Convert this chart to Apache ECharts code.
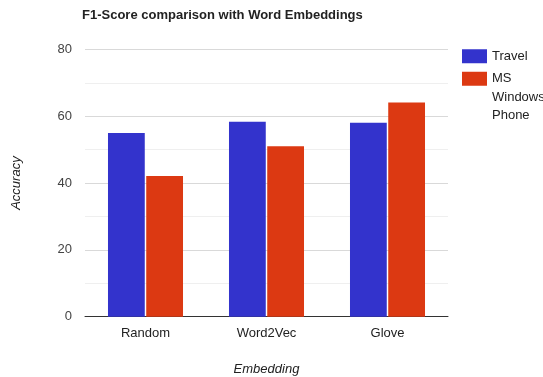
<!DOCTYPE html>
<html>
<head>
<meta charset="utf-8">
<script src="https://cdn.jsdelivr.net/npm/echarts@6/dist/echarts.min.js"></script>
<style>
  html, body { margin: 0; padding: 0; background: #fff; }
  #chart { width: 543px; height: 377px; }
</style>
</head>
<body>
<div id="chart"></div>
<script>
// Embedding methods on the x axis
const categories = ['Random', 'Word2Vec', 'Glove'];
// F1 scores per dataset
const travel = [55, 58.4, 58.1];
const msWindowsPhone = [42.1, 51, 64.1];
const seriesNames = ['Travel', 'MS Windows Phone'];
// Y axis range
const yMin = 0, yMax = 80, yStep = 20;

const FONT = '"Liberation Sans", Arial, sans-serif';
const LINE_H = 18.5;

// Wrap a legend name one word per line; two blank lines in front keep the
// first word level with the swatch (legend text is centred on the swatch).
function wrapLegendName(name) {
  const words = name.split(' ');
  const pad = new Array(words.length - 1).fill('');
  return pad.concat(words).join('\n');
}

const chart = echarts.init(document.getElementById('chart'), null, { renderer: 'canvas' });

chart.setOption({
  animation: false,
  backgroundColor: '#ffffff',
  textStyle: { fontFamily: FONT },
  title: {
    text: 'F1-Score comparison with Word Embeddings',
    left: 82,
    top: 9,
    padding: 0,
    textStyle: { fontFamily: FONT, fontSize: 13, fontWeight: 'bold', color: '#222' }
  },
  legend: [
    {
      data: [seriesNames[0]],
      orient: 'vertical',
      left: 462,
      top: 47,
      padding: 0,
      itemWidth: 25,
      itemHeight: 14,
      icon: 'rect',
      selectedMode: false,
      textStyle: { fontFamily: FONT, fontSize: 13, color: '#222', lineHeight: LINE_H }
    },
    {
      data: [seriesNames[1]],
      orient: 'vertical',
      left: 462,
      top: 32.5,
      padding: 0,
      itemWidth: 25,
      itemHeight: 14,
      icon: 'rect',
      selectedMode: false,
      formatter: wrapLegendName,
      textStyle: { fontFamily: FONT, fontSize: 13, color: '#222', lineHeight: LINE_H }
    }
  ],
  grid: {
    left: 85, right: 95, top: 49.5, bottom: 60.3,
    containLabel: false,
    outerBoundsMode: 'none'
  },
  xAxis: {
    type: 'category',
    data: categories,
    name: 'Embedding',
    nameLocation: 'middle',
    nameGap: 46,
    nameTextStyle: { fontFamily: FONT, fontSize: 13, fontStyle: 'italic', color: '#222' },
    axisLine: { show: true, lineStyle: { color: '#333', width: 1 } },
    axisTick: { show: false },
    axisLabel: { margin: 10, fontFamily: FONT, fontSize: 13, color: '#222' }
  },
  yAxis: {
    type: 'value',
    min: yMin,
    max: yMax,
    interval: yStep,
    name: 'Accuracy',
    nameLocation: 'middle',
    nameGap: 62,
    nameTextStyle: { fontFamily: FONT, fontSize: 13, fontStyle: 'italic', color: '#222' },
    axisLine: { show: false },
    axisTick: { show: false },
    axisLabel: { margin: 13, fontFamily: FONT, fontSize: 13, color: '#444' },
    splitLine: { show: true, lineStyle: { color: '#d9d9d9', width: 1 } },
    minorTick: { show: false, splitNumber: 2 },
    minorSplitLine: { show: true, lineStyle: { color: '#efefef', width: 1 } }
  },
  series: [
    {
      name: seriesNames[0],
      type: 'bar',
      data: travel,
      barGap: '4%',
      barCategoryGap: '38%',
      itemStyle: { color: '#3333cc' }
    },
    {
      name: seriesNames[1],
      type: 'bar',
      data: msWindowsPhone,
      itemStyle: { color: '#dc3912' }
    }
  ]
});
</script>
</body>
</html>
